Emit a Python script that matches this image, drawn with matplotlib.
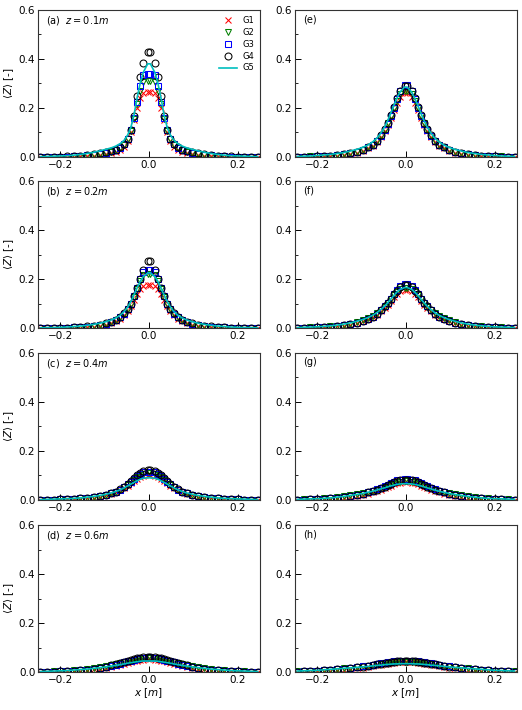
import numpy as np
import matplotlib
matplotlib.use('Agg')
import matplotlib.pyplot as plt
from matplotlib.ticker import MultipleLocator

"""Mean mixture fraction profiles, 4 heights x 2 cases, grids G1-G5"""

# half profile positions (profiles are symmetric about x = 0)
x_half = [0.003, 0.013, 0.02, 0.027, 0.034, 0.041, 0.048, 0.056, 0.065, 0.075, 0.085,
          0.097, 0.11, 0.125, 0.14, 0.155, 0.17, 0.185, 0.2, 0.215, 0.23, 0.245]

panel_tags = ['(a)', '(b)', '(c)', '(d)', '(e)', '(f)', '(g)', '(h)']
heights = ['$z = 0.1m$', '$z = 0.2m$', '$z = 0.4m$', '$z = 0.6m$']
grid_names = ['G1', 'G2', 'G3', 'G4', 'G5']

# values, one list per panel (a)..(h)
g1 = [
    [0.265, 0.26, 0.24, 0.2, 0.15, 0.1, 0.065, 0.042, 0.028, 0.02, 0.015, 0.011, 0.008, 0.005, 0.003, 0.002, 0.001, 0.001, 0, 0, 0, 0],
    [0.175, 0.172, 0.16, 0.14, 0.115, 0.09, 0.07, 0.052, 0.038, 0.027, 0.019, 0.013, 0.008, 0.005, 0.003, 0.002, 0.001, 0.001, 0, 0, 0, 0],
    [0.1, 0.098, 0.093, 0.086, 0.077, 0.068, 0.058, 0.048, 0.039, 0.031, 0.024, 0.018, 0.013, 0.009, 0.006, 0.004, 0.003, 0.002, 0.001, 0.001, 0, 0],
    [0.052, 0.051, 0.049, 0.047, 0.044, 0.041, 0.038, 0.034, 0.03, 0.026, 0.022, 0.018, 0.014, 0.011, 0.008, 0.006, 0.004, 0.003, 0.002, 0.001, 0.001, 0],
    [0.26, 0.245, 0.22, 0.19, 0.16, 0.13, 0.105, 0.08, 0.06, 0.045, 0.035, 0.025, 0.018, 0.012, 0.008, 0.005, 0.003, 0.002, 0.001, 0.001, 0, 0],
    [0.155, 0.15, 0.14, 0.126, 0.111, 0.096, 0.082, 0.068, 0.055, 0.044, 0.035, 0.027, 0.02, 0.014, 0.01, 0.007, 0.005, 0.003, 0.002, 0.001, 0.001, 0],
    [0.072, 0.07, 0.067, 0.063, 0.058, 0.053, 0.048, 0.042, 0.036, 0.03, 0.025, 0.02, 0.016, 0.012, 0.009, 0.006, 0.004, 0.003, 0.002, 0.001, 0.001, 0],
    [0.04, 0.04, 0.039, 0.038, 0.036, 0.034, 0.032, 0.03, 0.027, 0.024, 0.021, 0.018, 0.015, 0.012, 0.01, 0.008, 0.006, 0.004, 0.003, 0.002, 0.001, 0.001],
]
g2 = [
    [0.31, 0.305, 0.27, 0.215, 0.155, 0.105, 0.072, 0.05, 0.036, 0.027, 0.021, 0.016, 0.012, 0.008, 0.005, 0.003, 0.002, 0.001, 0.001, 0, 0, 0],
    [0.22, 0.215, 0.19, 0.16, 0.128, 0.1, 0.077, 0.058, 0.044, 0.033, 0.025, 0.018, 0.013, 0.009, 0.006, 0.004, 0.003, 0.002, 0.001, 0.001, 0, 0],
    [0.11, 0.107, 0.1, 0.092, 0.082, 0.072, 0.062, 0.052, 0.042, 0.034, 0.027, 0.021, 0.016, 0.012, 0.009, 0.006, 0.004, 0.003, 0.002, 0.001, 0.001, 0.001],
    [0.058, 0.057, 0.055, 0.053, 0.05, 0.047, 0.043, 0.039, 0.035, 0.031, 0.027, 0.023, 0.019, 0.015, 0.012, 0.009, 0.007, 0.005, 0.004, 0.003, 0.002, 0.001],
    [0.27, 0.255, 0.23, 0.2, 0.168, 0.138, 0.11, 0.085, 0.065, 0.05, 0.04, 0.03, 0.022, 0.016, 0.011, 0.008, 0.005, 0.004, 0.003, 0.002, 0.001, 0.001],
    [0.165, 0.16, 0.148, 0.133, 0.117, 0.101, 0.087, 0.073, 0.06, 0.049, 0.04, 0.031, 0.024, 0.018, 0.013, 0.01, 0.007, 0.005, 0.004, 0.003, 0.002, 0.001],
    [0.075, 0.074, 0.071, 0.067, 0.063, 0.058, 0.053, 0.048, 0.042, 0.036, 0.031, 0.026, 0.022, 0.018, 0.014, 0.011, 0.008, 0.006, 0.004, 0.003, 0.002, 0.001],
    [0.042, 0.042, 0.041, 0.04, 0.039, 0.037, 0.035, 0.033, 0.031, 0.028, 0.026, 0.023, 0.02, 0.017, 0.015, 0.012, 0.01, 0.008, 0.006, 0.005, 0.004, 0.003],
]
g3 = [
    [0.34, 0.335, 0.29, 0.225, 0.16, 0.11, 0.075, 0.052, 0.038, 0.029, 0.023, 0.018, 0.013, 0.009, 0.006, 0.004, 0.002, 0.001, 0.001, 0, 0, 0],
    [0.235, 0.23, 0.2, 0.165, 0.13, 0.1, 0.077, 0.058, 0.044, 0.033, 0.025, 0.018, 0.013, 0.009, 0.006, 0.004, 0.003, 0.002, 0.001, 0.001, 0, 0],
    [0.115, 0.112, 0.105, 0.096, 0.085, 0.074, 0.063, 0.052, 0.042, 0.033, 0.026, 0.02, 0.015, 0.011, 0.008, 0.006, 0.004, 0.003, 0.002, 0.001, 0.001, 0],
    [0.06, 0.059, 0.057, 0.054, 0.051, 0.047, 0.043, 0.039, 0.034, 0.03, 0.026, 0.021, 0.017, 0.013, 0.01, 0.007, 0.005, 0.004, 0.003, 0.002, 0.001, 0.001],
    [0.295, 0.27, 0.235, 0.2, 0.165, 0.135, 0.11, 0.085, 0.065, 0.05, 0.04, 0.03, 0.022, 0.015, 0.01, 0.007, 0.005, 0.003, 0.002, 0.001, 0.001, 0.001],
    [0.178, 0.17, 0.155, 0.138, 0.12, 0.103, 0.088, 0.073, 0.059, 0.047, 0.038, 0.029, 0.022, 0.016, 0.011, 0.008, 0.006, 0.004, 0.003, 0.002, 0.001, 0.001],
    [0.085, 0.083, 0.079, 0.074, 0.068, 0.062, 0.056, 0.05, 0.043, 0.036, 0.03, 0.025, 0.02, 0.015, 0.011, 0.008, 0.006, 0.004, 0.003, 0.002, 0.001, 0.001],
    [0.045, 0.045, 0.044, 0.043, 0.041, 0.039, 0.037, 0.035, 0.032, 0.029, 0.026, 0.023, 0.02, 0.017, 0.014, 0.011, 0.009, 0.007, 0.005, 0.004, 0.003, 0.002],
]
g4 = [
    [0.43, 0.385, 0.325, 0.25, 0.165, 0.11, 0.075, 0.053, 0.039, 0.03, 0.024, 0.019, 0.014, 0.01, 0.007, 0.005, 0.003, 0.002, 0.001, 0.001, 0, 0],
    [0.275, 0.235, 0.2, 0.165, 0.13, 0.1, 0.078, 0.06, 0.045, 0.034, 0.026, 0.019, 0.014, 0.01, 0.007, 0.005, 0.003, 0.002, 0.001, 0.001, 0.001, 0],
    [0.122, 0.118, 0.11, 0.1, 0.088, 0.076, 0.065, 0.054, 0.043, 0.034, 0.027, 0.021, 0.016, 0.012, 0.009, 0.006, 0.004, 0.003, 0.002, 0.001, 0.001, 0.001],
    [0.062, 0.061, 0.059, 0.056, 0.053, 0.049, 0.045, 0.041, 0.036, 0.031, 0.027, 0.022, 0.018, 0.014, 0.01, 0.008, 0.006, 0.004, 0.003, 0.002, 0.001, 0.001],
    [0.29, 0.27, 0.24, 0.205, 0.17, 0.14, 0.112, 0.088, 0.066, 0.05, 0.04, 0.03, 0.022, 0.015, 0.01, 0.007, 0.005, 0.003, 0.002, 0.001, 0.001, 0.001],
    [0.175, 0.168, 0.153, 0.137, 0.12, 0.103, 0.088, 0.073, 0.059, 0.047, 0.038, 0.029, 0.022, 0.016, 0.011, 0.008, 0.006, 0.004, 0.003, 0.002, 0.001, 0.001],
    [0.082, 0.08, 0.076, 0.071, 0.066, 0.06, 0.054, 0.048, 0.042, 0.035, 0.03, 0.025, 0.02, 0.015, 0.011, 0.008, 0.006, 0.004, 0.003, 0.002, 0.001, 0.001],
    [0.044, 0.044, 0.043, 0.042, 0.04, 0.038, 0.036, 0.034, 0.031, 0.028, 0.025, 0.022, 0.019, 0.016, 0.013, 0.011, 0.009, 0.007, 0.005, 0.004, 0.003, 0.002],
]
g5 = [
    [0.38, 0.345, 0.3, 0.24, 0.17, 0.12, 0.09, 0.068, 0.054, 0.044, 0.037, 0.031, 0.025, 0.019, 0.014, 0.01, 0.007, 0.005, 0.004, 0.003, 0.002, 0.001],
    [0.225, 0.21, 0.19, 0.163, 0.135, 0.108, 0.086, 0.067, 0.052, 0.041, 0.033, 0.026, 0.02, 0.015, 0.011, 0.008, 0.006, 0.004, 0.003, 0.002, 0.002, 0.001],
    [0.09, 0.088, 0.084, 0.078, 0.071, 0.064, 0.057, 0.049, 0.041, 0.034, 0.028, 0.023, 0.018, 0.014, 0.011, 0.008, 0.006, 0.005, 0.004, 0.003, 0.002, 0.001],
    [0.045, 0.045, 0.044, 0.042, 0.04, 0.038, 0.036, 0.033, 0.03, 0.027, 0.024, 0.021, 0.018, 0.015, 0.012, 0.01, 0.008, 0.006, 0.005, 0.004, 0.003, 0.002],
    [0.285, 0.265, 0.24, 0.21, 0.178, 0.148, 0.122, 0.098, 0.077, 0.061, 0.049, 0.039, 0.031, 0.024, 0.018, 0.014, 0.01, 0.008, 0.006, 0.004, 0.003, 0.002],
    [0.165, 0.158, 0.147, 0.133, 0.118, 0.103, 0.089, 0.076, 0.063, 0.052, 0.043, 0.035, 0.028, 0.021, 0.016, 0.012, 0.009, 0.007, 0.005, 0.004, 0.003, 0.002],
    [0.066, 0.065, 0.063, 0.06, 0.057, 0.053, 0.049, 0.045, 0.04, 0.035, 0.031, 0.026, 0.022, 0.018, 0.014, 0.011, 0.008, 0.006, 0.005, 0.004, 0.003, 0.002],
    [0.034, 0.034, 0.033, 0.033, 0.032, 0.031, 0.03, 0.028, 0.027, 0.025, 0.023, 0.021, 0.019, 0.017, 0.015, 0.013, 0.011, 0.009, 0.007, 0.006, 0.005, 0.004],
]


def mirror(half):
    # full profile from the read half (left side is the reflection)
    half = np.asarray(half)
    return np.concatenate((half[::-1], half))


xx = np.concatenate((-np.asarray(x_half)[::-1], np.asarray(x_half)))

plt.rcParams['font.size'] = 7.5
plt.rcParams['axes.edgecolor'] = '#333333'

fig = plt.figure(figsize=(5.22, 7.1), dpi=100)

lefts = [0.073, 0.565]
bottoms = [0.779, 0.538, 0.296, 0.0535]
w = 0.425
h = 0.207

ms = 5
mew = 0.75

for col in range(2):
    for row in range(4):
        k = col * 4 + row
        ax = fig.add_axes([lefts[col], bottoms[row], w, h])

        ax.plot(xx, mirror(g1[k]), 'x', color='r', ms=ms, mew=mew, ls='none', label='G1')
        ax.plot(xx, mirror(g2[k]), 'v', mec='g', mfc='none', ms=ms, mew=mew, ls='none', label='G2')
        ax.plot(xx, mirror(g3[k]), 's', mec='b', mfc='none', ms=ms, mew=mew, ls='none', label='G3')
        ax.plot(xx, mirror(g4[k]), 'o', mec='k', mfc='none', ms=ms, mew=mew, ls='none', label='G4')
        ax.plot(xx, mirror(g5[k]), '-', color='c', lw=1.2, label='G5')

        ax.set_xlim(-0.25, 0.25)
        ax.set_ylim(0, 0.6)
        ax.set_xticks([-0.2, 0.0, 0.2])
        ax.set_yticks([0.0, 0.2, 0.4, 0.6])
        ax.yaxis.set_minor_locator(MultipleLocator(0.1))
        ax.tick_params(direction='in', length=4, width=0.7, pad=2)
        ax.tick_params(which='minor', direction='in', length=2.5, width=0.6)
        for s in ax.spines.values():
            s.set_linewidth(0.8)

        if col == 0:
            tag = panel_tags[k] + '  ' + heights[row]
            ax.set_ylabel(r'$\langle Z \rangle$ [-]', labelpad=2)
        else:
            tag = panel_tags[k]
        ax.text(0.035, 0.97, tag, transform=ax.transAxes, ha='left', va='top', fontsize=7)

        if row == 3:
            ax.set_xlabel('$x$ [$m$]', labelpad=1)

        if k == 0:
            ax.legend(loc='upper right', frameon=False, fontsize=6, handlelength=2.2,
                      labelspacing=0.35, borderaxespad=0.3, handletextpad=0.6, markerfirst=True)

plt.savefig('out.png', dpi=100)
